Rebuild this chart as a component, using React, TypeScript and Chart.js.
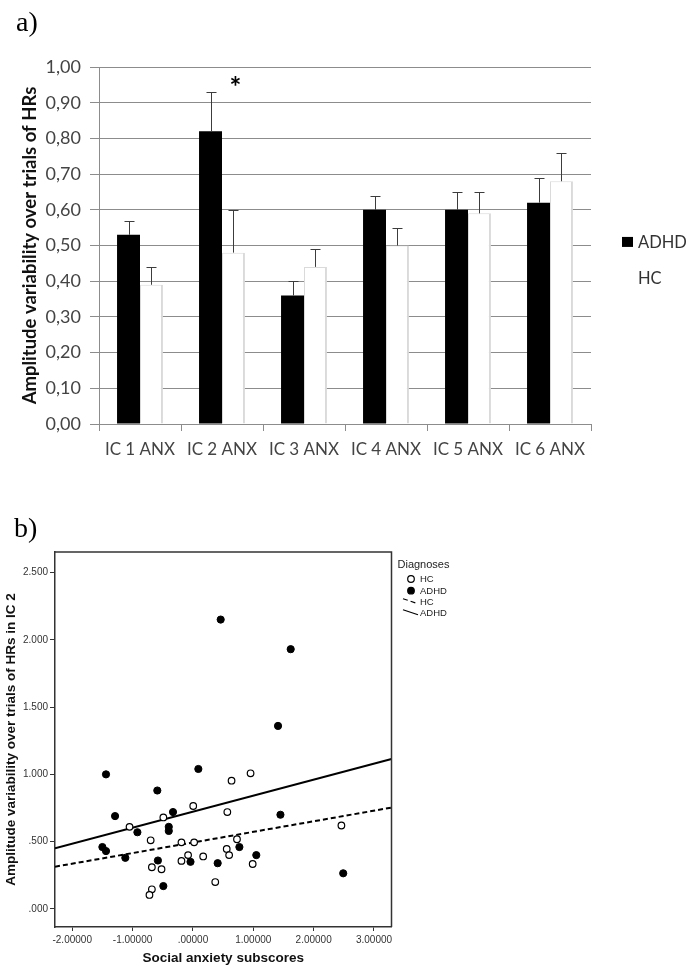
import React, { useEffect, useRef } from "react";
import { Chart, registerables } from "chart.js";

Chart.register(...registerables);

// ---------- Panel a) data ----------
const categories = ["IC 1 ANX", "IC 2 ANX", "IC 3 ANX", "IC 4 ANX", "IC 5 ANX", "IC 6 ANX"];
const adhdMeans = [0.53, 0.82, 0.36, 0.6, 0.6, 0.62];
const adhdErrors = [0.04, 0.11, 0.04, 0.04, 0.05, 0.07];
const hcMeans = [0.39, 0.48, 0.44, 0.5, 0.59, 0.68];
const hcErrors = [0.05, 0.12, 0.05, 0.05, 0.06, 0.08];
const barYTicks = [0, 0.1, 0.2, 0.3, 0.4, 0.5, 0.6, 0.7, 0.8, 0.9, 1.0];
const barYTickLabels = ["0,00", "0,10", "0,20", "0,30", "0,40", "0,50", "0,60", "0,70", "0,80", "0,90", "1,00"];
const significantIndex = 1;
const asteriskValue = 0.915;

// ---------- Panel b) data ----------
const adhdX = [-1.44, -0.59, -1.29, -0.33, -0.4, -0.4, -0.92, -1.5, -1.44, -1.12, -0.58, -0.04, -0.49, 0.09, 1.45, 0.77, 1.05, 0.41, 2.49, 0.46, 1.62, 1.41];
const adhdY = [1.0, 0.88, 0.69, 0.72, 0.61, 0.58, 0.57, 0.46, 0.43, 0.38, 0.36, 0.35, 0.17, 1.04, 0.7, 0.46, 0.4, 0.34, 0.265, 2.15, 1.93, 1.36];
const hcX = [-1.05, -0.49, 0.005, -0.7, -0.19, 0.02, -0.08, -0.19, -0.68, -0.52, -0.68, -0.72, 0.17, 0.955, 0.64, 0.57, 0.73, 0.56, 0.6, 0.99, 0.37, 2.46];
const hcY = [0.61, 0.68, 0.765, 0.51, 0.495, 0.495, 0.4, 0.357, 0.31, 0.295, 0.146, 0.104, 0.39, 1.008, 0.953, 0.72, 0.518, 0.446, 0.4, 0.334, 0.2, 0.62];
const adhdFitX = [-2.285, 3.29];
const adhdFitY = [0.451, 1.114];
const hcFitX = [-2.285, 3.29];
const hcFitY = [0.314, 0.753];
const scatterXTicks = [-2, -1, 0, 1, 2, 3];
const scatterXLabels = ["-2.00000", "-1.00000", ".00000", "1.00000", "2.00000", "3.00000"];
const scatterYTicks = [0, 0.5, 1, 1.5, 2, 2.5];
const scatterYLabels = [".000", ".500", "1.000", "1.500", "2.000", "2.500"];

const FONT = "Lato";
const SPSS_FONT = "Liberation Sans";

const errorBarPlugin = {
  id: "errorBars",
  afterDatasetsDraw(chart: any) {
    const ctx = chart.ctx;
    const ys = chart.scales.y;
    chart.data.datasets.forEach((ds: any, di: number) => {
      const meta = chart.getDatasetMeta(di);
      meta.data.forEach((bar: any, i: number) => {
        const top = Math.round(ys.getPixelForValue(ds.data[i] + ds.errors[i])) + 0.5;
        const x = Math.round(bar.x) + 0.5;
        ctx.save();
        ctx.strokeStyle = "#3c3c3c";
        ctx.lineWidth = 1;
        ctx.beginPath();
        ctx.moveTo(x, bar.y);
        ctx.lineTo(x, top);
        ctx.moveTo(x - 5, top);
        ctx.lineTo(x + 5, top);
        ctx.stroke();
        ctx.restore();
      });
    });
    // significance asterisk
    const meta = chart.getDatasetMeta(1);
    const el = meta.data[significantIndex];
    ctx.save();
    ctx.fillStyle = "#000";
    ctx.font = `bold 28px ${FONT}`;
    ctx.textAlign = "center";
    ctx.textBaseline = "alphabetic";
    ctx.fillText("*", el.x + 2, ys.getPixelForValue(asteriskValue));
    ctx.restore();
  },
};

const barLegendPlugin = {
  id: "barLegend",
  afterDraw(chart: any) {
    const ctx = chart.ctx;
    const { right, top, bottom } = chart.chartArea;
    const y0 = top + (bottom - top) * 0.49;
    ctx.save();
    ctx.font = `16.5px ${FONT}`;
    ctx.textBaseline = "middle";
    ctx.textAlign = "left";
    chart.data.datasets.forEach((ds: any, i: number) => {
      const y = y0 + i * 36;
      ctx.fillStyle = ds.backgroundColor;
      ctx.fillRect(right + 31, y - 5, 11, 10);
      ctx.fillStyle = "#333";
      ctx.fillText(ds.label, right + 47, y + 1);
    });
    ctx.restore();
  },
};

const framePlugin = {
  id: "frame",
  afterDatasetsDraw(chart: any) {
    const ctx = chart.ctx;
    const { left, right, top, bottom } = chart.chartArea;
    ctx.save();
    ctx.strokeStyle = "#333";
    ctx.lineWidth = 1.5;
    ctx.beginPath();
    ctx.moveTo(left, top);
    ctx.lineTo(right, top);
    ctx.lineTo(right, bottom);
    ctx.stroke();
    ctx.restore();
  },
};

const scatterLegendPlugin = {
  id: "scatterLegend",
  afterDraw(chart: any) {
    const ctx = chart.ctx;
    const { right, top } = chart.chartArea;
    ctx.save();
    ctx.fillStyle = "#222";
    ctx.textBaseline = "middle";
    ctx.textAlign = "left";
    ctx.font = `11px ${SPSS_FONT}`;
    ctx.fillText("Diagnoses", right + 6, top + 12.5);
    ctx.font = `9.5px ${SPSS_FONT}`;
    const rows = [27, 38.7, 49.7, 60.7];
    chart.data.datasets.forEach((ds: any, i: number) => {
      const y = top + rows[i];
      const mx = right + 19.5;
      ctx.strokeStyle = "#000";
      ctx.fillStyle = ds.backgroundColor;
      if (ds.type === "line") {
        ctx.lineWidth = 1.2;
        ctx.setLineDash(ds.borderDash || []);
        ctx.beginPath();
        ctx.moveTo(mx - 8, y - 3);
        ctx.lineTo(mx + 7, y + 2);
        ctx.stroke();
        ctx.setLineDash([]);
      } else {
        ctx.lineWidth = 1.2;
        ctx.beginPath();
        ctx.arc(mx, y, 3.3, 0, Math.PI * 2);
        ctx.fill();
        ctx.stroke();
      }
      ctx.fillStyle = "#222";
      ctx.fillText(ds.label, right + 28.5, y + 0.5);
    });
    ctx.restore();
  },
};

function BarPanel() {
  const ref = useRef<HTMLCanvasElement | null>(null);
  useEffect(() => {
    if (!ref.current) return;
    const chart = new Chart(ref.current, {
      type: "bar",
      data: {
        labels: categories,
        datasets: [
          {
            label: "ADHD",
            data: adhdMeans,
            errors: adhdErrors,
            backgroundColor: "#000000",
            borderWidth: 0,
          } as any,
          {
            label: "HC",
            data: hcMeans,
            errors: hcErrors,
            backgroundColor: "#ffffff",
            borderColor: "#dadada",
            borderWidth: { left: 1, right: 2, top: 1, bottom: 0 },
          } as any,
        ],
      },
      options: {
        animation: false,
        responsive: false,
        layout: { padding: { left: 0, top: 67, right: 98, bottom: 0 } },
        plugins: { legend: { display: false }, tooltip: { enabled: false } },
        datasets: { bar: { categoryPercentage: 0.56, barPercentage: 1 } },
        scales: {
          x: {
            grid: { offset: true, drawOnChartArea: false, drawTicks: true, tickLength: 7, color: "#8c8c8c" },
            border: { color: "#8c8c8c" },
            ticks: { font: { family: FONT, size: 17 }, color: "#444", padding: 8 },
            afterFit: (s: any) => {
              s.height = 46;
            },
          },
          y: {
            min: 0,
            max: 1,
            afterBuildTicks: (s: any) => {
              s.ticks = barYTicks.map((v) => ({ value: v }));
            },
            ticks: {
              callback: (_v: any, i: number) => barYTickLabels[i],
              font: { family: FONT, size: 18 },
              color: "#444",
              padding: 9,
            },
            grid: { color: "#8c8c8c", tickLength: 9 },
            border: { color: "#8c8c8c" },
            title: {
              display: true,
              text: "Amplitude variability over trials of HRs",
              font: { family: FONT, size: 18.5, weight: "bold" },
              color: "#111",
              padding: { top: 19, bottom: 0 },
            },
            afterFit: (s: any) => {
              s.width = 99;
            },
          },
        },
      } as any,
      plugins: [errorBarPlugin, barLegendPlugin],
    });
    return () => chart.destroy();
  }, []);
  return (
    <canvas
      ref={ref}
      width={689}
      height={470}
      style={{ position: "absolute", left: 0, top: 0, width: 689, height: 470 }}
    />
  );
}

function ScatterPanel() {
  const ref = useRef<HTMLCanvasElement | null>(null);
  useEffect(() => {
    if (!ref.current) return;
    const hcPts = hcX.map((x, i) => ({ x, y: hcY[i] }));
    const adhdPts = adhdX.map((x, i) => ({ x, y: adhdY[i] }));
    const hcFit = hcFitX.map((x, i) => ({ x, y: hcFitY[i] }));
    const adhdFit = adhdFitX.map((x, i) => ({ x, y: adhdFitY[i] }));
    const chart = new Chart(ref.current, {
      type: "scatter",
      data: {
        datasets: [
          {
            label: "HC",
            data: hcPts,
            pointRadius: 3.3,
            backgroundColor: "#ffffff",
            borderColor: "#000000",
            borderWidth: 1.2,
            order: 2,
          },
          {
            label: "ADHD",
            data: adhdPts,
            pointRadius: 3.6,
            backgroundColor: "#000000",
            borderColor: "#000000",
            borderWidth: 1,
            order: 1,
          },
          {
            type: "line",
            label: "HC",
            data: hcFit,
            borderColor: "#000000",
            backgroundColor: "#000000",
            borderWidth: 2,
            borderDash: [5, 3],
            pointRadius: 0,
            fill: false,
            order: 3,
          },
          {
            type: "line",
            label: "ADHD",
            data: adhdFit,
            borderColor: "#000000",
            backgroundColor: "#000000",
            borderWidth: 2,
            pointRadius: 0,
            fill: false,
            order: 3,
          },
        ] as any,
      },
      options: {
        animation: false,
        responsive: false,
        layout: { padding: { left: 0, top: 72, right: 297.5, bottom: 0 } },
        plugins: { legend: { display: false }, tooltip: { enabled: false } },
        scales: {
          x: {
            type: "linear",
            min: -2.285,
            max: 3.29,
            afterBuildTicks: (s: any) => {
              s.ticks = scatterXTicks.map((v) => ({ value: v }));
            },
            ticks: {
              callback: (_v: any, i: number) => scatterXLabels[i],
              font: { family: SPSS_FONT, size: 10 },
              color: "#333",
              padding: 3,
            },
            grid: { drawOnChartArea: false, tickLength: 4, color: "#333" },
            border: { color: "#333", width: 1.5 },
            title: {
              display: true,
              text: "Social anxiety subscores",
              font: { family: SPSS_FONT, size: 13.5, weight: "bold" },
              color: "#111",
              padding: { top: 0, bottom: 2 },
            },
            afterFit: (s: any) => {
              s.height = 41;
            },
          },
          y: {
            type: "linear",
            min: -0.134,
            max: 2.652,
            afterBuildTicks: (s: any) => {
              s.ticks = scatterYTicks.map((v) => ({ value: v }));
            },
            ticks: {
              callback: (_v: any, i: number) => scatterYLabels[i],
              font: { family: SPSS_FONT, size: 10 },
              color: "#333",
              padding: 2,
            },
            grid: { drawOnChartArea: false, tickLength: 5, color: "#333" },
            border: { color: "#333", width: 1.5 },
            title: {
              display: true,
              text: "Amplitude variability over trials of HRs in IC 2",
              font: { family: SPSS_FONT, size: 13.5, weight: "bold" },
              color: "#111",
              padding: { top: 3, bottom: 0 },
            },
            afterFit: (s: any) => {
              s.width = 55;
            },
          },
        },
      } as any,
      plugins: [framePlugin, scatterLegendPlugin],
    });
    return () => chart.destroy();
  }, []);
  return (
    <canvas
      ref={ref}
      width={689}
      height={488}
      style={{ position: "absolute", left: 0, top: 480, width: 689, height: 488 }}
    />
  );
}

const panelLabel: React.CSSProperties = {
  position: "absolute",
  fontFamily: "'Liberation Serif', serif",
  fontSize: 28,
  lineHeight: "32px",
  color: "#000",
  margin: 0,
};

export default function App() {
  return (
    <div
      style={{
        position: "absolute",
        left: 0,
        top: 0,
        width: 689,
        height: 968,
        background: "#fff",
        overflow: "hidden",
      }}
    >
      <BarPanel />
      <ScatterPanel />
      <div style={{ ...panelLabel, left: 16, top: 6 }}>a)</div>
      <div style={{ ...panelLabel, left: 14, top: 512 }}>b)</div>
    </div>
  );
}
